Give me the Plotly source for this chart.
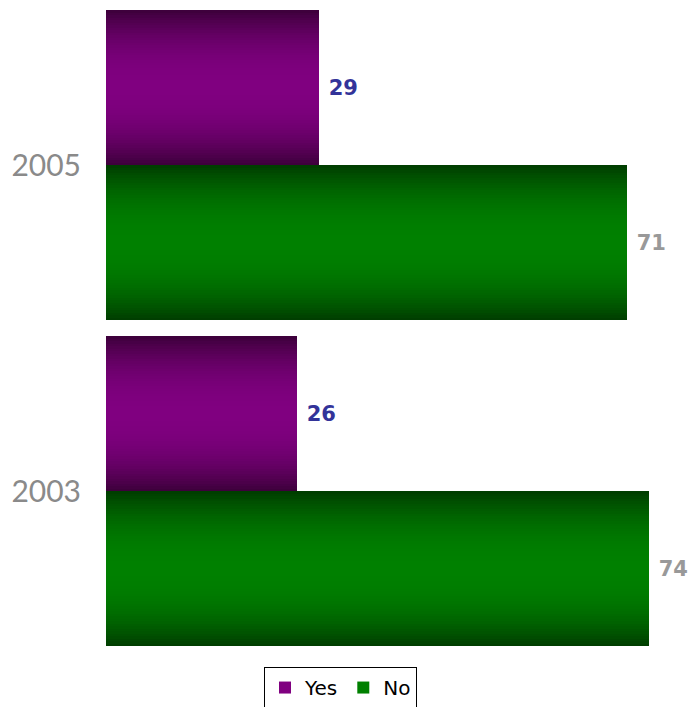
import plotly.graph_objects as go

# Survey results by year (percent)
years = ["2003", "2005"]
yes_values = [26, 29]
no_values = [74, 71]

# Bar colours: dark edge tone and bright centre tone
yes_dark, yes_bright = (60, 0, 58), (128, 0, 128)
no_dark, no_bright = (0, 60, 0), (0, 128, 0)

BAR_H = 155 / 326      # bar thickness in category units
N_STRIPS = 62          # horizontal strips used to shade each bar
STEP = BAR_H / N_STRIPS
EPS = 0.004


def shade(dark, bright, frac):
    """Colour at relative height frac (0..1) across a bar: dark edges, bright middle."""
    t = abs(2 * frac - 1)
    f = 1 - t ** 2.2
    r, g, b = (round(d + (c - d) * f) for d, c in zip(dark, bright))
    return f"rgb({r},{g},{b})"


fig = go.Figure()


def add_shaded(values, dark, bright, base_offset, name):
    for i in range(N_STRIPS):
        frac = (i + 0.5) / N_STRIPS
        last = i == N_STRIPS - 1
        fig.add_trace(go.Bar(
            x=values, y=years, orientation="h",
            offset=base_offset + i * STEP,
            width=STEP + (0 if last else EPS),
            marker=dict(color=shade(dark, bright, frac), line=dict(width=0)),
            name=name, legendgroup=name,
            showlegend=(i == N_STRIPS // 2),
            hoverinfo="skip",
        ))


# "No" sits in the lower half of each category, "Yes" in the upper half
add_shaded(no_values, no_dark, no_bright, -BAR_H, "No")
add_shaded(yes_values, yes_dark, yes_bright, 0.0, "Yes")

# Value labels at the end of each bar
label_font = dict(family="DejaVu Sans", size=21)
fig.add_trace(go.Bar(
    x=yes_values, y=years, orientation="h", offset=0.0, width=BAR_H,
    marker=dict(color="rgba(0,0,0,0)", line=dict(width=0)),
    texttemplate="\u00a0<b>%{x}</b>", textposition="outside",
    textfont=dict(color="#333399", **label_font),
    cliponaxis=False, showlegend=False, hoverinfo="skip",
))
fig.add_trace(go.Bar(
    x=no_values, y=years, orientation="h", offset=-BAR_H, width=BAR_H,
    marker=dict(color="rgba(0,0,0,0)", line=dict(width=0)),
    texttemplate="\u00a0<b>%{x}</b>", textposition="outside",
    textfont=dict(color="#999999", **label_font),
    cliponaxis=False, showlegend=False, hoverinfo="skip",
))

fig.update_layout(
    width=690, height=707,
    margin=dict(l=106, r=0, t=2, b=53, autoexpand=False),
    barmode="overlay", bargap=0,
    plot_bgcolor="white", paper_bgcolor="white",
    xaxis=dict(range=[0, 79.6], visible=False, fixedrange=True),
    yaxis=dict(
        type="category", categoryorder="array", categoryarray=years,
        range=[-0.5, 1.5], showgrid=False, zeroline=False, showline=False,
        ticks="outside", ticklen=18, tickcolor="rgba(0,0,0,0)",
        tickfont=dict(family="Lato", size=30, color="#8a8a8a"),
        automargin=False,
    ),
    legend=dict(
        orientation="h", xref="container", x=264 / 690, xanchor="left",
        y=-0.02, yanchor="top", traceorder="reversed",
        bordercolor="black", borderwidth=1, bgcolor="white",
        font=dict(family="DejaVu Sans", size=20, color="black"),
        itemwidth=30,
    ),
    showlegend=True,
)

fig.write_html("out.html")
